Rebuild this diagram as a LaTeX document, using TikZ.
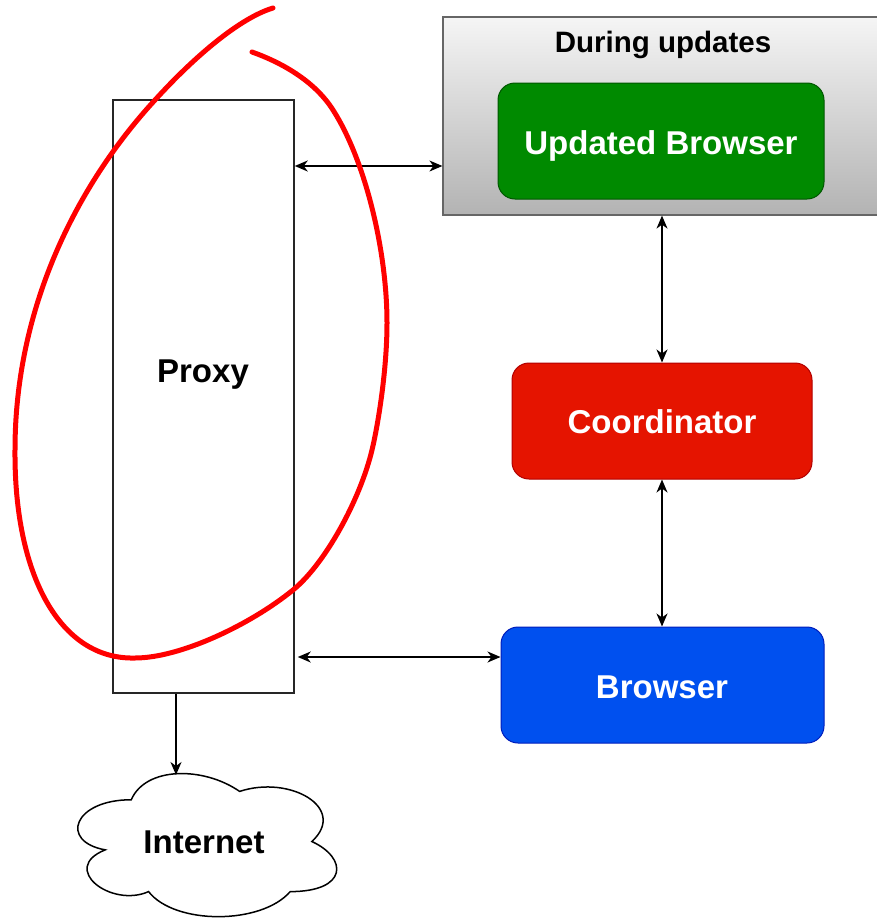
\documentclass[tikz,border=0pt]{standalone}
\usepackage{fontspec}
\setmainfont{Liberation Sans}
\usetikzlibrary{arrows.meta,calc}
\definecolor{grayfillA}{HTML}{F5F5F5}
\definecolor{grayfillB}{HTML}{B3B3B3}
\definecolor{graystroke}{HTML}{666666}
\definecolor{greenfill}{HTML}{008A00}
\definecolor{greenstroke}{HTML}{005700}
\definecolor{redfill}{HTML}{E51400}
\definecolor{redstroke}{HTML}{B20000}
\definecolor{bluefill}{HTML}{0050EF}
\definecolor{bluestroke}{HTML}{001DBC}
\definecolor{markred}{HTML}{FF0000}
\tikzset{
  lbl/.style={font=\bfseries\fontsize{33}{39}\selectfont, anchor=base, inner sep=0pt},
  wlbl/.style={lbl, text=white},
  colbox/.style={rounded corners=17pt, minimum width=326pt, minimum height=116pt, inner sep=0pt, line width=1pt},
  conn/.style={line width=1.5pt, draw=black},
  biarrow/.style={conn, {Stealth[length=13pt,width=11pt,inset=4pt]}-{Stealth[length=13pt,width=11pt,inset=4pt]}},
  onearrow/.style={conn, -{Stealth[length=13pt,width=11pt,inset=4pt]}},
}
\begin{document}
\begin{tikzpicture}[x=1pt,y=-1pt]
\useasboundingbox (0,0) rectangle (877,918);
\fill[white] (0,0) rectangle (877,918);
% During updates group
\node[draw=graystroke, line width=1.2pt, top color=grayfillA, bottom color=grayfillB, minimum width=440pt, minimum height=198pt, inner sep=0pt] (during) at (663,116) {};
\node[font=\bfseries\fontsize{29.5}{35}\selectfont, anchor=base, inner sep=0pt] (duringlabel) at (663,52) {During updates};
\node[colbox, fill=greenfill, draw=greenstroke] (updated) at (661,141) {};
\node[wlbl] (updatedlabel) at (661,154) {Updated Browser};
\node[colbox, fill=redfill, draw=redstroke, minimum width=300pt] (coord) at (662,421) {};
\node[wlbl] (coordlabel) at (662,433) {Coordinator};
\node[colbox, fill=bluefill, draw=bluestroke, minimum width=323pt] (browser) at (662.5,685) {};
\node[wlbl] (browserlabel) at (662,698) {Browser};
% Proxy
\node[draw=black!85, line width=1.5pt, minimum width=181pt, minimum height=593pt, inner sep=0pt] (proxy) at (203.5,396.5) {};
\node[lbl] (proxylabel) at (203,382) {Proxy};
% Cloud
\begin{scope}[shift={(59,758)}, x=289pt, y=-167pt]
\draw[line width=1.5pt, fill=white] (0.25,0.25)
  .. controls (0.05,0.25) and (0,0.5) .. (0.16,0.55)
  .. controls (0,0.66) and (0.18,0.9) .. (0.31,0.8)
  .. controls (0.4,1) and (0.7,1) .. (0.8,0.8)
  .. controls (1,0.8) and (1,0.6) .. (0.875,0.5)
  .. controls (1,0.3) and (0.8,0.1) .. (0.625,0.2)
  .. controls (0.5,0.05) and (0.3,0.05) .. (0.25,0.25) -- cycle;
\end{scope}
\coordinate (cloudtop) at (176,775);
\node[lbl] (internet) at (204,853) {Internet};
% Connectors
\draw[biarrow] (proxy.east |- 0,166) -- (during.west |- 0,166);
\draw[biarrow] (coord.north |- during.south) -- (coord.north);
\draw[biarrow] (coord.south) -- (browser.north -| coord.south);
\draw[biarrow, shorten <=3pt] (proxy.east |- 0,657) -- (browser.west |- 0,657);
\draw[onearrow] (proxy.south -| cloudtop) -- (cloudtop);
% Red hand-drawn mark
\draw[markred, line width=5pt, line cap=round, line join=round]
  (273,8) .. controls (240,18) and (195,56) .. (155,100)
  .. controls (83,178) and (15,300) .. (15,450)
  .. controls (14,575) and (60,660) .. (135,658)
  .. controls (180,658) and (250,625) .. (293,590)
  .. controls (325,564) and (360,500) .. (372,450)
  .. controls (378,425) and (387,370) .. (387,323)
  .. controls (387,250) and (365,160) .. (333,110)
  .. controls (314,80) and (280,62) .. (252,52);
\end{tikzpicture}
\end{document}
